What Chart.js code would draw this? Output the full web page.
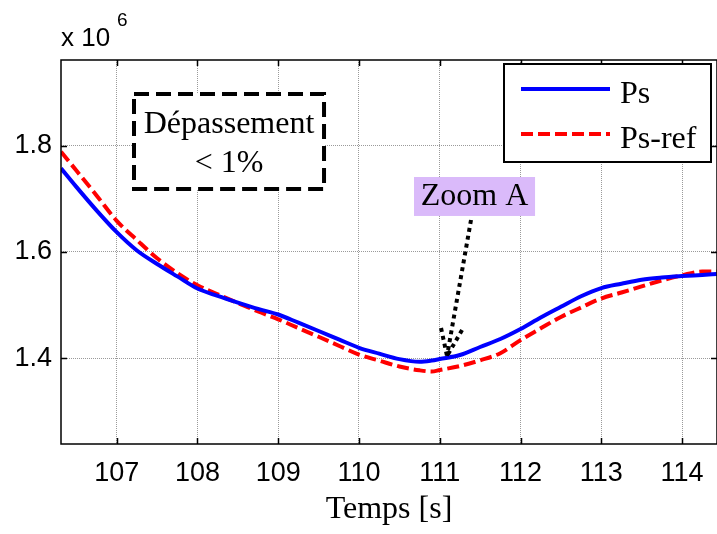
<!DOCTYPE html>
<html>
<head>
<meta charset="utf-8">
<script src="https://cdn.jsdelivr.net/npm/chart.js@4/dist/chart.umd.min.js"></script>
<style>
  html, body { margin: 0; padding: 0; background: #fff; }
  #wrap { width: 717px; height: 534px; position: relative; }
</style>
</head>
<body>
<div id="wrap"><canvas id="chart" width="717" height="534"></canvas></div>
<script>
"use strict";

// time axis (s)
const temps = [106.31, 106.5, 106.75, 107, 107.25, 107.5, 107.75, 108, 108.25, 108.5, 108.75, 109,
  109.25, 109.5, 109.75, 110, 110.25, 110.5, 110.75, 110.9, 111, 111.25, 111.5, 111.75, 112,
  112.25, 112.5, 112.75, 113, 113.25, 113.5, 113.75, 114, 114.25, 114.43];

// Ps (x 10^6)
const ps = [1.7575, 1.7225, 1.6783, 1.6373, 1.6028, 1.5774, 1.5541, 1.5313, 1.5174, 1.5048, 1.4929, 1.4824,
  1.4670, 1.4514, 1.4356, 1.4198, 1.4088, 1.3985, 1.3936, 1.3959, 1.3987, 1.4062, 1.4213, 1.4363, 1.4551,
  1.4768, 1.4969, 1.5167, 1.5321, 1.5404, 1.5479, 1.5520, 1.5547, 1.5569, 1.5586];

// Ps-ref (x 10^6)
const psRef = [1.7887, 1.7533, 1.7065, 1.6587, 1.6226, 1.5883, 1.5603, 1.5375, 1.5204, 1.5040, 1.4882, 1.4734,
  1.4568, 1.4405, 1.4237, 1.4071, 1.3957, 1.3846, 1.3774, 1.3752, 1.3780, 1.3855, 1.3962, 1.4096, 1.4342,
  1.4564, 1.4779, 1.4956, 1.5125, 1.5238, 1.5353, 1.5466, 1.5562, 1.5633, 1.5633];

const xTicks = [107, 108, 109, 110, 111, 112, 113, 114];
const yTicks = [1.4, 1.6, 1.8];
const labels = ["Ps", "Ps-ref"];

const SANS = "'Liberation Sans', Arial, sans-serif";
const SERIF = "'Liberation Serif', 'Times New Roman', serif";

// annotation anchors, in data units
const NOTE_BOX = { x0: 107.214, x1: 109.567, y0: 1.8973, y1: 1.7185 };
const ZOOM_BOX = { x0: 110.681, x1: 112.18, y0: 1.7411, y1: 1.6678 };
const ARROW = { from: [111.387, 1.6602], to: [111.09, 1.4043], wingL: [111.016, 1.457], wingR: [111.276, 1.4532] };

const pts = (ys) => temps.map((t, i) => ({ x: t, y: ys[i] }));

const decorPlugin = {
  id: "decor",
  afterDatasetsDraw(chart) {
    const { ctx, chartArea: a, scales: { x, y } } = chart;
    ctx.save();

    // frame
    ctx.strokeStyle = "#000";
    ctx.lineWidth = 1.5;
    ctx.setLineDash([]);
    ctx.strokeRect(a.left, a.top, a.right - a.left, a.bottom - a.top);

    // inward ticks on all four sides
    ctx.lineWidth = 1.5;
    ctx.beginPath();
    xTicks.forEach(v => {
      const px = Math.round(x.getPixelForValue(v)) + 0.5;
      ctx.moveTo(px, a.bottom); ctx.lineTo(px, a.bottom - 6);
      ctx.moveTo(px, a.top); ctx.lineTo(px, a.top + 6);
    });
    yTicks.forEach(v => {
      const py = Math.round(y.getPixelForValue(v)) + 0.5;
      ctx.moveTo(a.left, py); ctx.lineTo(a.left + 6, py);
      ctx.moveTo(a.right, py); ctx.lineTo(a.right - 6, py);
    });
    ctx.stroke();

    // "Dépassement < 1%" dashed box
    const bx0 = x.getPixelForValue(NOTE_BOX.x0), bx1 = x.getPixelForValue(NOTE_BOX.x1);
    const by0 = y.getPixelForValue(NOTE_BOX.y0), by1 = y.getPixelForValue(NOTE_BOX.y1);
    ctx.fillStyle = "#fff";
    ctx.fillRect(bx0, by0, bx1 - bx0, by1 - by0);
    ctx.lineWidth = 4;
    ctx.setLineDash([15, 7]);
    ctx.strokeRect(bx0, by0, bx1 - bx0, by1 - by0);
    ctx.setLineDash([]);
    ctx.fillStyle = "#000";
    ctx.font = `32px ${SERIF}`;
    ctx.textAlign = "center";
    ctx.textBaseline = "alphabetic";
    ctx.fillText("Dépassement", (bx0 + bx1) / 2, by0 + 39);
    ctx.fillText("< 1%", (bx0 + bx1) / 2, by0 + 78);

    // "Zoom A" label
    const zx0 = x.getPixelForValue(ZOOM_BOX.x0), zx1 = x.getPixelForValue(ZOOM_BOX.x1);
    const zy0 = y.getPixelForValue(ZOOM_BOX.y0), zy1 = y.getPixelForValue(ZOOM_BOX.y1);
    ctx.fillStyle = "rgb(218,186,250)";
    ctx.fillRect(zx0, zy0, zx1 - zx0, zy1 - zy0);
    ctx.fillStyle = "#000";
    ctx.fillText("Zoom A", (zx0 + zx1) / 2, zy0 + 28);

    // dotted arrow
    const P = (p) => [x.getPixelForValue(p[0]), y.getPixelForValue(p[1])];
    const [fx, fy] = P(ARROW.from), [tx, ty] = P(ARROW.to);
    const [lx, ly] = P(ARROW.wingL), [rx, ry] = P(ARROW.wingR);
    ctx.strokeStyle = "#000";
    ctx.lineWidth = 4;
    ctx.setLineDash([4, 4]);
    ctx.beginPath();
    ctx.moveTo(fx, fy); ctx.lineTo(tx, ty);
    ctx.moveTo(lx, ly); ctx.lineTo(tx, ty);
    ctx.moveTo(rx, ry); ctx.lineTo(tx, ty);
    ctx.stroke();
    ctx.setLineDash([]);

    // legend
    const lgL = a.right - 213, lgT = a.top + 4, lgW = 207, lgH = 98;
    ctx.fillStyle = "#fff";
    ctx.fillRect(lgL, lgT, lgW, lgH);
    ctx.strokeStyle = "#000";
    ctx.lineWidth = 2;
    ctx.strokeRect(lgL, lgT, lgW, lgH);
    chart.data.datasets.forEach((ds, i) => {
      const ly2 = lgT + 25 + i * 45;
      ctx.strokeStyle = ds.borderColor;
      ctx.lineWidth = 4;
      ctx.setLineDash(ds.borderDash || []);
      ctx.beginPath();
      ctx.moveTo(lgL + 17, ly2); ctx.lineTo(lgL + 106, ly2);
      ctx.stroke();
      ctx.setLineDash([]);
      ctx.fillStyle = "#000";
      ctx.textAlign = "left";
      ctx.font = `32px ${SERIF}`;
      ctx.fillText(ds.label, lgL + 116, ly2 + 14);
    });

    // exponent label
    ctx.fillStyle = "#000";
    ctx.textAlign = "left";
    ctx.font = `26px ${SANS}`;
    ctx.fillText("x 10", a.left, a.top - 14);
    ctx.font = `19px ${SANS}`;
    ctx.fillText("6", a.left + 56, a.top - 34);

    ctx.restore();
  },
};

new Chart(document.getElementById("chart"), {
  type: "line",
  data: {
    datasets: [
      { label: labels[0], data: pts(ps), borderColor: "#0000ff", borderWidth: 4, pointRadius: 0,
        cubicInterpolationMode: "monotone", order: 1 },
      { label: labels[1], data: pts(psRef), borderColor: "#ff0000", borderWidth: 4, borderDash: [12, 5],
        pointRadius: 0, cubicInterpolationMode: "monotone", order: 2 },
    ],
  },
  options: {
    responsive: false,
    animation: false,
    layout: { padding: { top: 60, right: 0, left: 0, bottom: 0 } },
    plugins: { legend: { display: false }, tooltip: { enabled: false } },
    scales: {
      x: {
        type: "linear",
        min: 106.31,
        max: 114.433,
        afterBuildTicks: (s) => { s.ticks = xTicks.map(v => ({ value: v })); },
        afterFit: (s) => { s.height = 90; },
        ticks: { color: "#000", font: { family: SANS, size: 27 }, padding: 13, maxRotation: 0, autoSkip: false },
        grid: { color: "#9a9a9a", lineWidth: 1, drawTicks: false },
        border: { display: false, dash: [1, 1] },
        title: { display: true, text: "Temps [s]", color: "#000", font: { family: SERIF, size: 32 }, padding: { top: 0, bottom: 5 } },
      },
      y: {
        type: "linear",
        min: 1.2388,
        max: 1.9612,
        afterBuildTicks: (s) => { s.ticks = yTicks.map(v => ({ value: v })); },
        afterFit: (s) => { s.width = 61; },
        ticks: { color: "#000", font: { family: SANS, size: 27 }, padding: 9, callback: (v) => v.toFixed(1) },
        grid: { color: "#9a9a9a", lineWidth: 1, drawTicks: false },
        border: { display: false, dash: [1, 1] },
      },
    },
  },
  plugins: [decorPlugin],
});
</script>
</body>
</html>
